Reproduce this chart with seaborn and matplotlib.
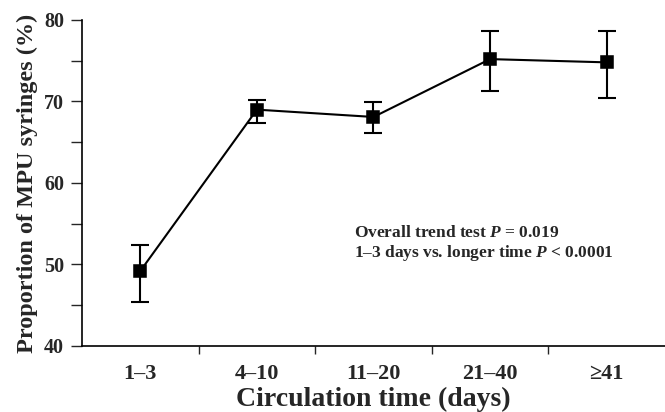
import numpy as np
import matplotlib
matplotlib.use('Agg')
import matplotlib.pyplot as plt
import seaborn as sns

# Circulation time groups and proportion of MPU syringes (%)
categories = ['1–3', '4–10', '11–20', '21–40', '≥41']
means = np.array([49.2, 69.0, 68.1, 75.2, 74.8])
lower = np.array([45.4, 67.3, 66.1, 71.3, 70.4])
upper = np.array([52.4, 70.2, 69.9, 78.7, 78.7])

sns.set_style('ticks')
plt.rcParams['font.family'] = ['Liberation Serif', 'DejaVu Serif']
plt.rcParams['font.weight'] = 'bold'
plt.rcParams['mathtext.fontset'] = 'custom'
plt.rcParams['mathtext.it'] = 'Liberation Serif:italic:bold'
plt.rcParams['mathtext.rm'] = 'Liberation Serif:bold'

fig = plt.figure(figsize=(6.65, 4.12), dpi=100)
ax = fig.add_axes([0.1233, 0.1602, 0.8767, 0.7913])

sns.pointplot(x=categories, y=means, color='black', markers='s',
              errorbar=None, linewidth=1.5, markersize=9, ax=ax)
x = np.arange(len(categories))
ax.errorbar(x, means, yerr=[means - lower, upper - means], fmt='none',
            ecolor='black', elinewidth=1.5, capsize=6.5, capthick=1.5)

ax.set_xlim(-0.5, 4.5)
ax.set_ylim(40, 80)
ax.set_yticks([40, 50, 60, 70, 80])
ax.set_yticks([45, 55, 65, 75], minor=True)
ax.set_xticks([0.5, 1.5, 2.5, 3.5])
ax.set_xticklabels([])
ax.set_xticks(x, minor=True)
ax.set_xticklabels(categories, minor=True, fontsize=16, fontweight='bold')
ax.tick_params(axis='x', which='major', length=6, width=1, direction='out')
ax.tick_params(axis='x', which='minor', length=0, pad=13)
ax.tick_params(axis='y', which='both', length=8, width=1, direction='out',
               labelsize=14.5, pad=5)
for lab in ax.get_yticklabels():
    lab.set_fontweight('bold')

for s in ['top', 'right']:
    ax.spines[s].set_visible(False)
for s in ['left', 'bottom']:
    ax.spines[s].set_linewidth(1.2)
    ax.spines[s].set_color('black')

ax.set_xlabel('Circulation time (days)', fontsize=20, fontweight='bold', labelpad=2)
ax.set_ylabel('Proportion of MPU syringes (%)', fontsize=17.5, fontweight='bold', labelpad=4)

ax.text(1.83, 53.9, 'Overall trend test $P$ = 0.019', fontsize=12.5,
        fontweight='bold', va='center')
ax.text(1.83, 51.4, '1–3 days vs. longer time $P$ < 0.0001', fontsize=12.5,
        fontweight='bold', va='center')

fig.savefig('out.png', dpi=100)
